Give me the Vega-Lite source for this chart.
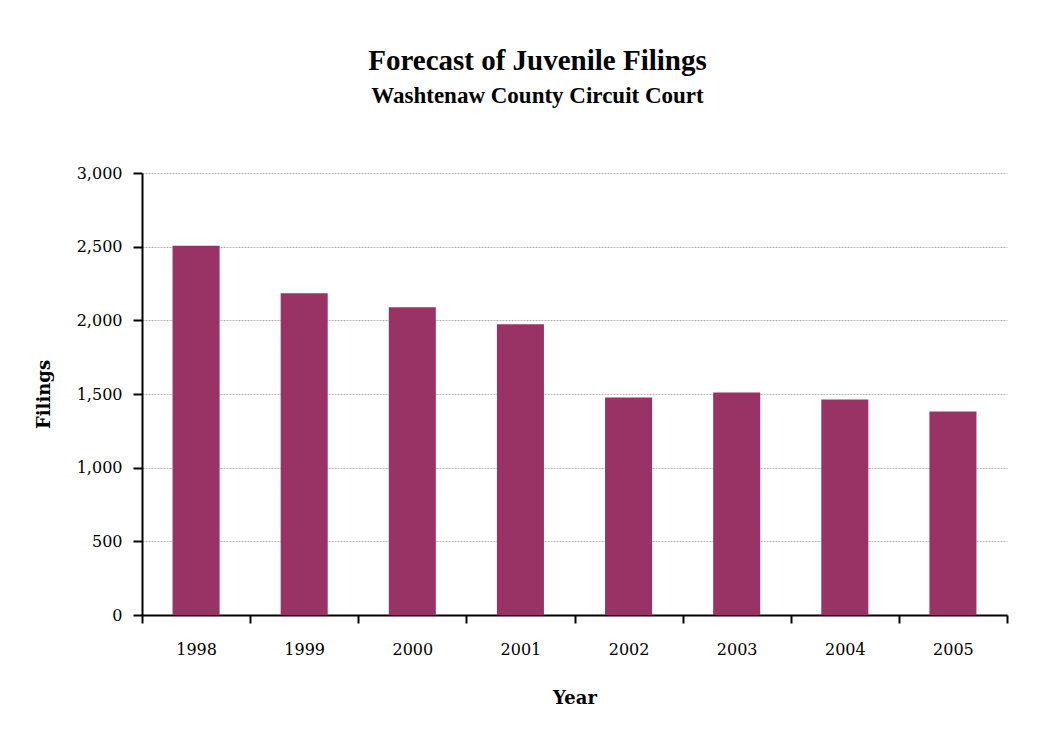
{
  "$schema": "https://vega.github.io/schema/vega-lite/v6.json",
  "autosize": "none",
  "width": 865,
  "height": 442,
  "padding": {"left": 142, "top": 173, "right": 50, "bottom": 121},
  "background": "white",
  "data": {
    "values": [
      {"Year": "1998", "Filings": 2507},
      {"Year": "1999", "Filings": 2184},
      {"Year": "2000", "Filings": 2089},
      {"Year": "2001", "Filings": 1974},
      {"Year": "2002", "Filings": 1476},
      {"Year": "2003", "Filings": 1510},
      {"Year": "2004", "Filings": 1463},
      {"Year": "2005", "Filings": 1381}
    ]
  },
  "title": {
    "text": "Forecast of Juvenile Filings",
    "subtitle": "Washtenaw County Circuit Court",
    "anchor": "middle",
    "dx": -37,
    "offset": 57,
    "font": "Liberation Serif",
    "fontSize": 29,
    "fontWeight": "bold",
    "color": "black",
    "subtitleFont": "Liberation Serif",
    "subtitleFontSize": 23,
    "subtitleFontWeight": "bold",
    "subtitleColor": "black",
    "subtitlePadding": 9
  },
  "mark": {"type": "bar", "color": "#993366", "width": {"band": 0.435}},
  "encoding": {
    "x": {
      "field": "Year",
      "type": "ordinal",
      "scale": {"paddingInner": 0, "paddingOuter": 0},
      "axis": {
        "title": "Year",
        "titleFont": "DejaVu Serif",
        "titleFontSize": 18,
        "titleFontWeight": "bold",
        "titleColor": "black",
        "titlePadding": 32,
        "labelAngle": 0,
        "labelFont": "DejaVu Serif",
        "labelFontSize": 16,
        "labelColor": "black",
        "labelPadding": 18,
        "tickBand": "extent",
        "tickSize": 8,
        "tickWidth": 2,
        "tickColor": "black",
        "domainColor": "black",
        "domainWidth": 2
      }
    },
    "y": {
      "field": "Filings",
      "type": "quantitative",
      "scale": {"domain": [0, 3000], "nice": false},
      "axis": {
        "title": "Filings",
        "titleFont": "DejaVu Serif",
        "titleFontSize": 18,
        "titleFontWeight": "bold",
        "titleColor": "black",
        "titlePadding": 23,
        "values": [0, 500, 1000, 1500, 2000, 2500, 3000],
        "format": ",d",
        "labelFont": "DejaVu Serif",
        "labelFontSize": 16,
        "labelColor": "black",
        "labelPadding": 11,
        "tickSize": 9,
        "tickWidth": 2,
        "tickColor": "black",
        "domainColor": "black",
        "domainWidth": 2,
        "grid": true,
        "gridColor": "#b4b4b4",
        "gridWidth": 1,
        "gridDash": [2, 1]
      }
    }
  },
  "config": {
    "view": {"stroke": null}
  }
}
